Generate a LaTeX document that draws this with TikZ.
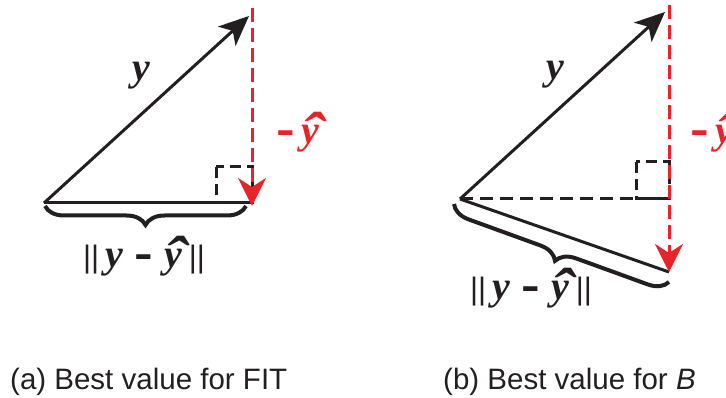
\documentclass[tikz,border=0pt]{standalone}
\usepackage{fontspec}
\usepackage{tikz}
\usetikzlibrary{arrows.meta,decorations.pathreplacing}
\setmainfont{Liberation Sans}
\newfontfamily\serifbi{Liberation Serif}
\definecolor{projred}{HTML}{E8232A}
\definecolor{inkblack}{HTML}{231F20}
\newcommand{\vy}{{\serifbi\bfseries\itshape y}}
\newcommand{\vyhat}{{\serifbi\bfseries\itshape\ooalign{y\cr\hidewidth\kern0.12em\raisebox{-0.27em}{\scalebox{1.7}[1.5]{\char"02C6}}\hidewidth\cr}}}
\newcommand{\vminus}{\scalebox{1.4}[1]{\textbf{-}}}
\newcommand{\nbar}{{\fontsize{31}{31}\selectfont ||}}
\tikzset{
  vec/.style={line width=3pt, draw=inkblack, -{Stealth[length=30pt, width=26pt, inset=8pt]}},
  proj/.style={line width=3pt, draw=projred, dash pattern=on 14pt off 6pt, -{Stealth[length=28pt, width=28pt, inset=9pt]}},
  baseline/.style={line width=3pt, draw=inkblack},
  guide/.style={line width=3pt, draw=inkblack, dash pattern=on 13pt off 7pt},
  rightangle/.style={line width=3pt, draw=inkblack, dash pattern=on 11pt off 6pt},
  normbrace/.style={decorate, decoration={brace, amplitude=19pt, mirror}, line width=4pt, draw=inkblack},
  vlabel/.style={inner sep=0pt, text=inkblack, font=\fontsize{40}{40}\selectfont},
  redlabel/.style={inner sep=0pt, text=projred, font=\fontsize{40}{40}\selectfont},
  caption/.style={inner sep=0pt, text=inkblack, font=\fontsize{29.5}{30}\selectfont}
}
\begin{document}
\begin{tikzpicture}[x=1pt, y=-1pt]
  \useasboundingbox (0,0) rectangle (726,398);

  % (a)
  \coordinate (oa) at (44,203);
  \coordinate (ta) at (249,16);
  \coordinate (ra) at (252,8);
  \coordinate (fa) at (252,206);
  \coordinate (ea) at (252,203);
  \draw[baseline] (oa) -- (ea);
  \draw[rightangle] (216,167) rectangle (252,203);
  \draw[vec] (oa) -- (ta);
  \draw[proj] (ra) -- (fa);
  \draw[normbrace] (45,206) -- (246,206);
  \node[vlabel, anchor=base] (ya) at (141,81) {\vy};
  \node[redlabel, anchor=base west] (yha) at (276,144) {\vminus\,\vyhat};
  \node[vlabel, anchor=base] (na) at (144,268) {\nbar\,\vy\ \vminus\ \vyhat\,\nbar};
  \node[caption, anchor=base west] (capa) at (10,389) {(a) Best value for FIT};

  % (b)
  \coordinate (ob) at (460,199);
  \coordinate (tb) at (665,12);
  \coordinate (rb) at (669,5);
  \coordinate (fb) at (669,272);
  \coordinate (eb) at (669,199);
  \draw[guide] (ob) -- (eb);
  \draw[rightangle] (636,162) rectangle (669,199);
  \draw[baseline] (ob) -- (fb);
  \draw[vec] (ob) -- (tb);
  \draw[proj] (rb) -- (fb);
  \draw[normbrace] (454,204) -- (669,282);
  \node[vlabel, anchor=base] (yb) at (555,80) {\vy};
  \node[redlabel, anchor=base west] (yhb) at (690,144) {\vminus\,\vyhat};
  \node[vlabel, anchor=base] (nb) at (531,300) {\nbar\,\vy\ \vminus\ \vyhat\,\nbar};
  \node[caption, anchor=base west] (capb) at (443,389) {(b) Best value for \textit{B}};
\end{tikzpicture}
\end{document}
